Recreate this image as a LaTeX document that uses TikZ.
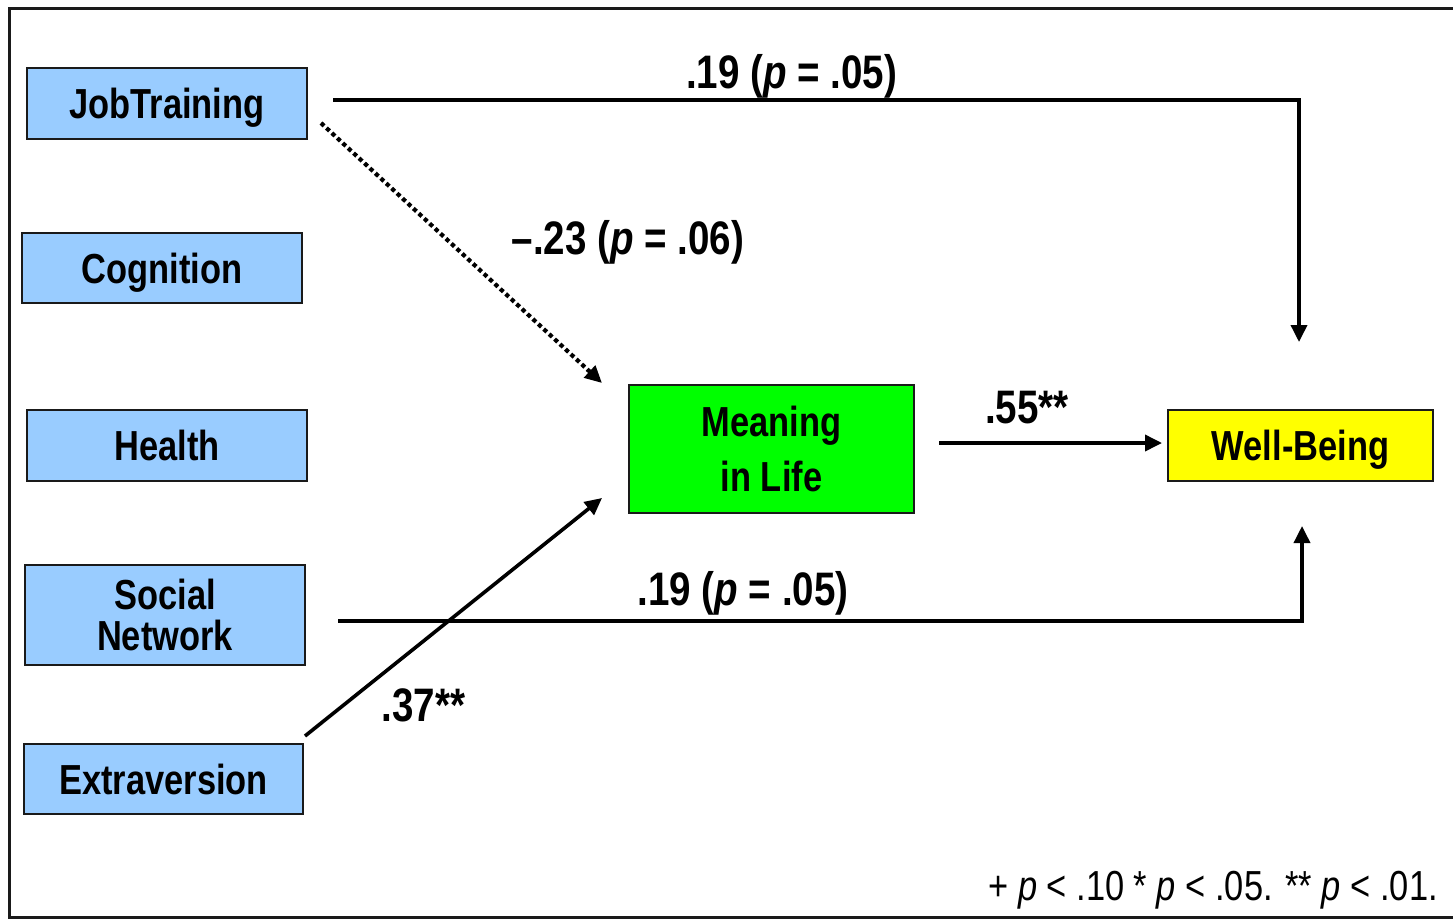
\documentclass[tikz,border=0pt]{standalone}
\usepackage{fontspec}
\usetikzlibrary{arrows.meta,calc}
\newfontfamily\narrowfont[FakeStretch=0.82]{Liberation Sans}
\definecolor{boxblue}{HTML}{99CCFF}
\definecolor{boxgreen}{HTML}{00FF00}
\definecolor{boxyellow}{HTML}{FFFF00}
\definecolor{edge}{HTML}{1A1A1A}
\tikzset{
  basebox/.style={draw=edge, line width=2pt, inner sep=0pt, anchor=center,
    font=\narrowfont\bfseries\fontsize{42}{41}\selectfont, align=center},
  bluebox/.style={basebox, fill=boxblue},
  oneline/.style={text height=30pt, text depth=0pt},
  conn/.style={line width=3.6pt, draw=black},
  arr/.style={conn, -{Triangle[length=17pt,width=16pt]}},
  dotarr/.style={arr, line width=4.2pt, dash pattern=on 4.2pt off 3.2pt},
  lab/.style={font=\narrowfont\bfseries\fontsize{47}{50}\selectfont, inner sep=0pt, anchor=base},
  foot/.style={font=\narrowfont\fontsize{42}{50}\selectfont, inner sep=0pt, anchor=base east}
}
\begin{document}
\begin{tikzpicture}[x=1pt,y=-1pt]
\useasboundingbox (0,0) rectangle (1453,919);
\fill[white] (0,0) rectangle (1453,919);
\draw[line width=3pt, draw=edge] (1460,8) -- (9.5,8) -- (9.5,917) -- (1460,917);

\node[bluebox, oneline, minimum width=280pt, minimum height=71pt] (jt) at (167,103.5) {JobTraining};
\node[bluebox, oneline, minimum width=280pt, minimum height=70pt] (cog) at (162,268) {Cognition};
\node[bluebox, oneline, minimum width=280pt, minimum height=71pt] (hea) at (167,445.5) {Health};
\node[bluebox, minimum width=280pt, minimum height=100pt] (soc) at (165,615) {Social\\Network};
\node[bluebox, oneline, minimum width=279pt, minimum height=70pt] (ext) at (163.5,779) {Extraversion};
\node[basebox, fill=boxgreen, minimum width=285pt, minimum height=128pt,
      font=\narrowfont\bfseries\fontsize{42}{55}\selectfont] (mil) at (771.5,449) {Meaning\\in Life};
\node[basebox, oneline, fill=boxyellow, minimum width=265pt, minimum height=71pt] (wb) at (1300.5,445.5) {Well-Being};

\draw[arr] ($(jt.east)+(25,-3.5)$) -| ($(wb.north)+(-1.5,-67)$);
\draw[dotarr] ($(jt.south east)+(13,-17)$) -- ($(mil.north west)+(-26,-1)$);
\draw[arr] ($(ext.north east)+(1,-7)$) -- ($(mil.south west)+(-26,-16)$);
\draw[arr] ($(soc.east)+(32,6)$) -| ($(wb.south)+(1.5,44)$);
\draw[arr] ($(mil.east)+(24,-6)$) -- ($(wb.west)+(-5,-2.5)$);

\node[lab] (l1) at (791.5,88) {.19 ({\itshape p} = .05)};
\node[lab] (l2) at (628,254) {–.23 ({\itshape p} = .06)};
\node[lab] (l3) at (1027,423) {.55**};
\node[lab] (l4) at (743,605) {.19 ({\itshape p} = .05)};
\node[lab] (l5) at (423.5,721) {.37**};
\node[foot] (fn) at (1438,900) {+ {\itshape p} < .10 * {\itshape p} < .05. ** {\itshape p} < .01.};
\end{tikzpicture}
\end{document}
